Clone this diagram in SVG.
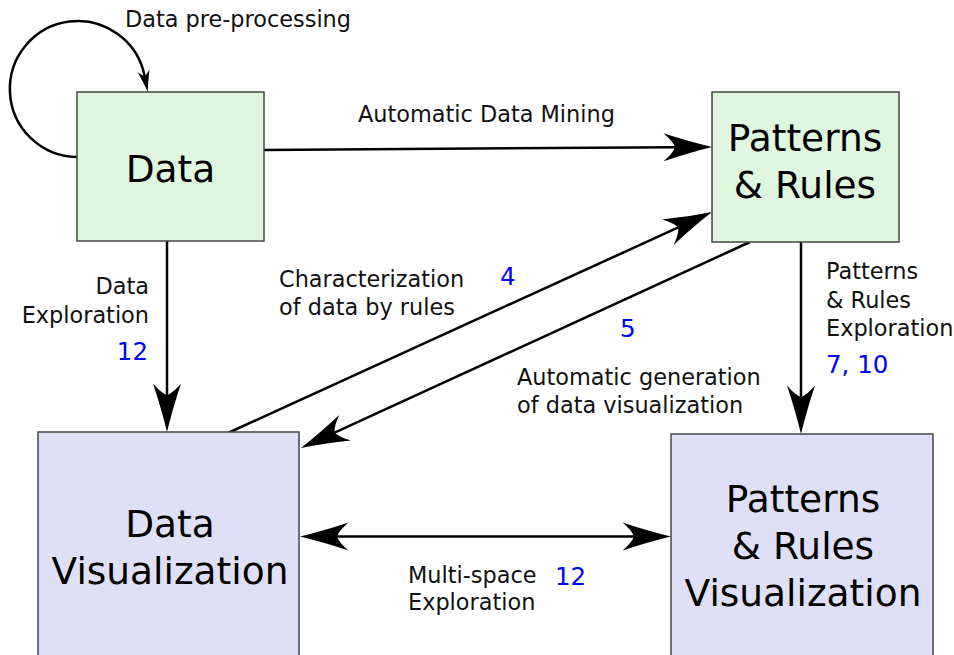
<svg xmlns="http://www.w3.org/2000/svg" width="954" height="655" viewBox="0 0 954 655">
<defs>
<style>
.box-g{fill:#dff7df;stroke:#444;stroke-width:1.5}
.box-v{fill:#dfdff7;stroke:#444;stroke-width:1.5}
.big{font-family:"DejaVu Sans",sans-serif;font-size:37.5px;fill:#000;text-anchor:middle}
.lbl{font-family:"DejaVu Sans",sans-serif;font-size:22.4px;fill:#111}
.num{font-family:"DejaVu Sans",sans-serif;font-size:24.5px;fill:#0000ff}
.end{text-anchor:end}
.edge{fill:none;stroke:#000;stroke-width:2.5}
</style>
<marker id="ah" markerUnits="userSpaceOnUse" orient="auto-start-reverse" overflow="visible" markerWidth="60" markerHeight="32" refX="0" refY="0">
<path d="M37,0 Q14,-5.5 -11.5,-14 Q-2,-6 0,0 Q-2,6 -11.5,14 Q14,5.5 37,0Z" fill="#000"/>
</marker>
<marker id="ahs" markerUnits="userSpaceOnUse" orient="auto" overflow="visible" markerWidth="26" markerHeight="14" refX="0" refY="0">
<path d="M16,0 Q6,-2.4 -5,-6 Q-1,-2.5 0,0 Q-1,2.5 -5,6 Q6,2.4 16,0Z" fill="#000"/>
</marker>
</defs>
<rect width="954" height="655" fill="#fff"/>

<g id="connectors">
<path class="edge" d="M77,157 A68,68 0 1 1 144.6,75.9" marker-end="url(#ahs)"/>
<path class="edge" d="M264,150 L675,147.25" marker-end="url(#ah)"/>
<path class="edge" d="M167,241 L167,395" marker-end="url(#ah)"/>
<path class="edge" d="M228,433 L678.3,227.4" marker-end="url(#ah)"/>
<path class="edge" d="M750,242 L334.6,432.6" marker-end="url(#ah)"/>
<path class="edge" d="M801,242 L801,397" marker-end="url(#ah)"/>
<path class="edge" d="M337,536.5 L634,536.5" marker-start="url(#ah)" marker-end="url(#ah)"/>
</g>

<g id="node-data">
<rect class="box-g" x="77" y="92" width="187" height="149"/>
<text class="big" x="170.5" y="182">Data</text>
</g>
<g id="node-patterns">
<rect class="box-g" x="712" y="92" width="187" height="150"/>
<text class="big" x="805" y="151">Patterns</text>
<text class="big" x="805" y="198">&amp; Rules</text>
</g>
<g id="node-data-vis">
<rect class="box-v" x="38" y="432" width="261" height="240"/>
<text class="big" x="170" y="537">Data</text>
<text class="big" x="170" y="584">Visualization</text>
</g>
<g id="node-patterns-vis">
<rect class="box-v" x="671" y="434" width="262" height="240"/>
<text class="big" x="803" y="512">Patterns</text>
<text class="big" x="803" y="559">&amp; Rules</text>
<text class="big" x="803" y="606">Visualization</text>
</g>

<g id="labels">
<text class="lbl" x="125" y="27">Data pre-processing</text>
<text class="lbl" x="358" y="122">Automatic Data Mining</text>
<text class="lbl end" x="149" y="294">Data</text>
<text class="lbl end" x="149" y="323">Exploration</text>
<text class="num end" x="148" y="360">12</text>
<text class="lbl" x="279" y="287">Characterization</text>
<text class="lbl" x="279" y="315">of data by rules</text>
<text class="num" x="500" y="285">4</text>
<text class="num" x="620" y="337">5</text>
<text class="lbl" x="517" y="385">Automatic generation</text>
<text class="lbl" x="517" y="413">of data visualization</text>
<text class="lbl" x="826" y="279">Patterns</text>
<text class="lbl" x="826" y="308">&amp; Rules</text>
<text class="lbl" x="826" y="336">Exploration</text>
<text class="num" x="826" y="373">7, 10</text>
<text class="lbl" x="408" y="583">Multi-space</text>
<text class="lbl" x="408" y="610">Exploration</text>
<text class="num" x="555" y="585">12</text>
</g>
</svg>
